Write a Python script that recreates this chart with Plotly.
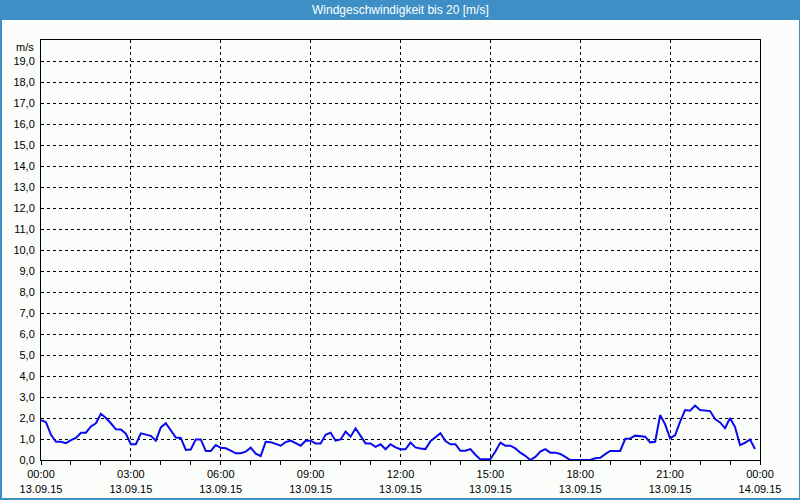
import pandas as pd
import plotly.graph_objects as go

# ---- data (wind speed, m/s, 10-minute samples, 13.09.15) ----
speed = [
    1.9, 1.8, 1.2, 0.87, 0.87, 0.8, 0.95, 1.05, 1.3, 1.3,
    1.6, 1.75, 2.2, 2.0, 1.75, 1.46, 1.45, 1.25, 0.75, 0.75,
    1.27, 1.2, 1.15, 0.92, 1.55, 1.75, 1.4, 1.07, 1.05, 0.48,
    0.5, 0.98, 0.98, 0.43, 0.43, 0.71, 0.58, 0.56, 0.45, 0.32,
    0.32, 0.4, 0.59, 0.3, 0.19, 0.87, 0.85, 0.75, 0.68, 0.85,
    0.92, 0.8, 0.68, 0.92, 0.92, 0.79, 0.79, 1.2, 1.3, 0.92,
    0.98, 1.35, 1.11, 1.51, 1.15, 0.79, 0.79, 0.63, 0.75, 0.51,
    0.75, 0.6, 0.51, 0.51, 0.83, 0.6, 0.55, 0.52, 0.9, 1.1,
    1.27, 0.9, 0.75, 0.75, 0.44, 0.44, 0.52, 0.25, 0.03, 0.03,
    0.05, 0.4, 0.83, 0.68, 0.68, 0.55, 0.35, 0.2, 0.0, 0.15,
    0.4, 0.52, 0.35, 0.35, 0.29, 0.15, 0.0, 0.0, 0.0, 0.0,
    0.0, 0.08, 0.11, 0.28, 0.43, 0.43, 0.43, 1.0, 1.03, 1.16,
    1.12, 1.11, 0.84, 0.87, 2.14, 1.7, 1.03, 1.19, 1.83, 2.38,
    2.35, 2.59, 2.38, 2.35, 2.33, 1.95, 1.79, 1.51, 2.0, 1.57,
    0.71, 0.82, 0.98, 0.52,
]
times = pd.date_range("2015-09-13 00:00", periods=len(speed), freq="10min")

tick_times = pd.date_range("2015-09-13 00:00", "2015-09-14 00:00", freq="3h")
tick_hours = ["00:00", "03:00", "06:00", "09:00", "12:00", "15:00", "18:00", "21:00", "00:00"]
tick_dates = ["13.09.15"] * 8 + ["14.09.15"]
minor_times = pd.date_range("2015-09-13 00:00", "2015-09-14 00:00", freq="1h")

y_ticks = list(range(0, 20))
y_labels = [f"{v},0" for v in y_ticks]
y_unit = "m/s"
title = "Windgeschwindigkeit bis 20 [m/s]"

# ---- layout geometry helpers ----
W, H = 800, 500
ML, MR, MT, MB = 41, 40, 40, 40
PW, PH = W - ML - MR, H - MT - MB


def px_x(px):
    return (px - ML) / PW


def px_y(py):
    return (H - MB - py) / PH


BG = "#fafdfa"
BLUE = "#3d8fc6"
FONT = "Liberation Sans"

fig = go.Figure()
fig.add_trace(go.Scatter(
    x=times, y=speed, mode="lines",
    line=dict(color="#0a0aee", width=2),
    hoverinfo="x+y", showlegend=False,
))

fig.update_layout(
    width=W, height=H,
    margin=dict(l=ML, r=MR, t=MT, b=MB, pad=0),
    paper_bgcolor=BG, plot_bgcolor=BG,
    font=dict(family=FONT, size=11, color="black"),
    showlegend=False,
)

fig.update_xaxes(
    type="date",
    range=[tick_times[0], tick_times[-1]],
    tickmode="array",
    tickvals=list(tick_times),
    ticktext=[f"{h}<br>{d}" for h, d in zip(tick_hours, tick_dates)],
    ticks="outside", ticklen=4, tickcolor="black", tickwidth=1,
    showgrid=True, gridcolor="black", gridwidth=1, griddash="3px,3px",
    showline=True, linecolor="black", linewidth=1, mirror=True,
    minor=dict(tickmode="array", tickvals=list(minor_times), ticks="outside",
               ticklen=4, tickcolor="black", tickwidth=1, showgrid=False),
    automargin=False, fixedrange=True,
)

fig.update_yaxes(
    range=[0, 20],
    tickmode="array",
    tickvals=y_ticks,
    ticktext=y_labels,
    ticks="outside", ticklen=3, tickcolor=BG,
    showgrid=True, gridcolor="black", gridwidth=1, griddash="3px,3px",
    zeroline=False,
    showline=True, linecolor="black", linewidth=1, mirror=True,
    automargin=False, fixedrange=True,
)

shapes = [
    # title bar
    dict(type="rect", xref="paper", yref="paper",
         x0=px_x(0), x1=px_x(W), y0=px_y(20), y1=px_y(0),
         fillcolor=BLUE, line=dict(width=0), layer="above"),
    # window border: left, right, bottom
    dict(type="rect", xref="paper", yref="paper",
         x0=px_x(0), x1=px_x(2), y0=px_y(H), y1=px_y(0),
         fillcolor=BLUE, line=dict(width=0), layer="above"),
    dict(type="rect", xref="paper", yref="paper",
         x0=px_x(W - 1), x1=px_x(W), y0=px_y(H), y1=px_y(0),
         fillcolor=BLUE, line=dict(width=0), layer="above"),
    dict(type="rect", xref="paper", yref="paper",
         x0=px_x(0), x1=px_x(W), y0=px_y(H), y1=px_y(H - 2),
         fillcolor=BLUE, line=dict(width=0), layer="above"),
]
fig.update_layout(shapes=shapes)

fig.add_annotation(
    text=title, xref="paper", yref="paper",
    x=px_x(W / 2), y=px_y(10), xanchor="center", yanchor="middle",
    showarrow=False, font=dict(family=FONT, size=12, color="white"),
)
fig.add_annotation(
    text=y_unit, xref="paper", yref="paper",
    x=px_x(36), y=px_y(47), xanchor="right", yanchor="middle",
    showarrow=False, font=dict(family=FONT, size=11, color="black"),
)

fig.write_html("out.html")
